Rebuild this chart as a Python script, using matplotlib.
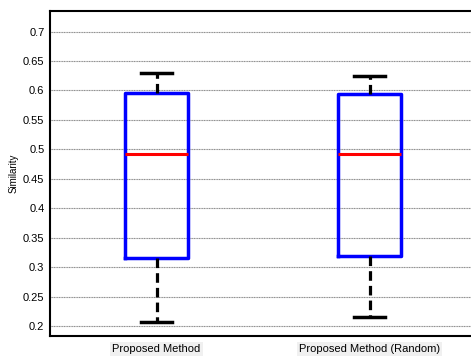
import matplotlib
matplotlib.use("Agg")
import matplotlib.pyplot as plt

categories = ["Proposed Method", "Proposed Method (Random)"]
medians = [0.4917, 0.4927]
q1 = [0.316, 0.319]
q3 = [0.595, 0.5936]
whis_lo = [0.2073, 0.2148]
whis_hi = [0.630, 0.6247]
yticks = [0.2, 0.25, 0.3, 0.35, 0.4, 0.45, 0.5, 0.55, 0.6, 0.65, 0.7]

plt.rcParams['font.family'] = ['Liberation Sans', 'DejaVu Sans']

fig = plt.figure(figsize=(4.71, 3.56), dpi=100)
ax = fig.add_axes([50/471, 20/356, 426/471, 325/356])

stats = []
for i, c in enumerate(categories):
    stats.append(dict(label=c, med=medians[i], q1=q1[i], q3=q3[i],
                      whislo=whis_lo[i], whishi=whis_hi[i], fliers=[]))

ax.bxp(stats, positions=[1, 2], widths=0.3, showfliers=False,
       boxprops=dict(color='#0000ff', linewidth=2.5),
       medianprops=dict(color='#ff0000', linewidth=2.2),
       whiskerprops=dict(color='black', linewidth=2.3, linestyle=(0, (3, 1.6))),
       capprops=dict(color='black', linewidth=2.5),
       capwidths=0.15)

ax.set_xlim(0.5, 2.5)
ax.set_ylim(0.183, 0.735)
ax.set_yticks(yticks)
ax.set_yticklabels([f"{t:g}" for t in yticks], fontsize=8)
ax.set_xticks([1, 2])
ax.set_xticklabels(categories, fontsize=8)
for lbl in ax.get_xticklabels():
    lbl.set_bbox(dict(facecolor='#f0f0f0', edgecolor='none', pad=1.5))
ax.tick_params(axis='both', length=0, pad=4)
ax.tick_params(axis='x', pad=6)
ax.yaxis.grid(True, color='#8c8c8c', linestyle=(0, (1, 0.5)), linewidth=0.8)
ax.set_axisbelow(True)
for s in ['left', 'top', 'bottom']:
    ax.spines[s].set_linewidth(1.5)
ax.spines['right'].set_visible(False)
ax.set_ylabel("Similarity", fontsize=7, labelpad=3)

fig.savefig("out.png", dpi=100)
